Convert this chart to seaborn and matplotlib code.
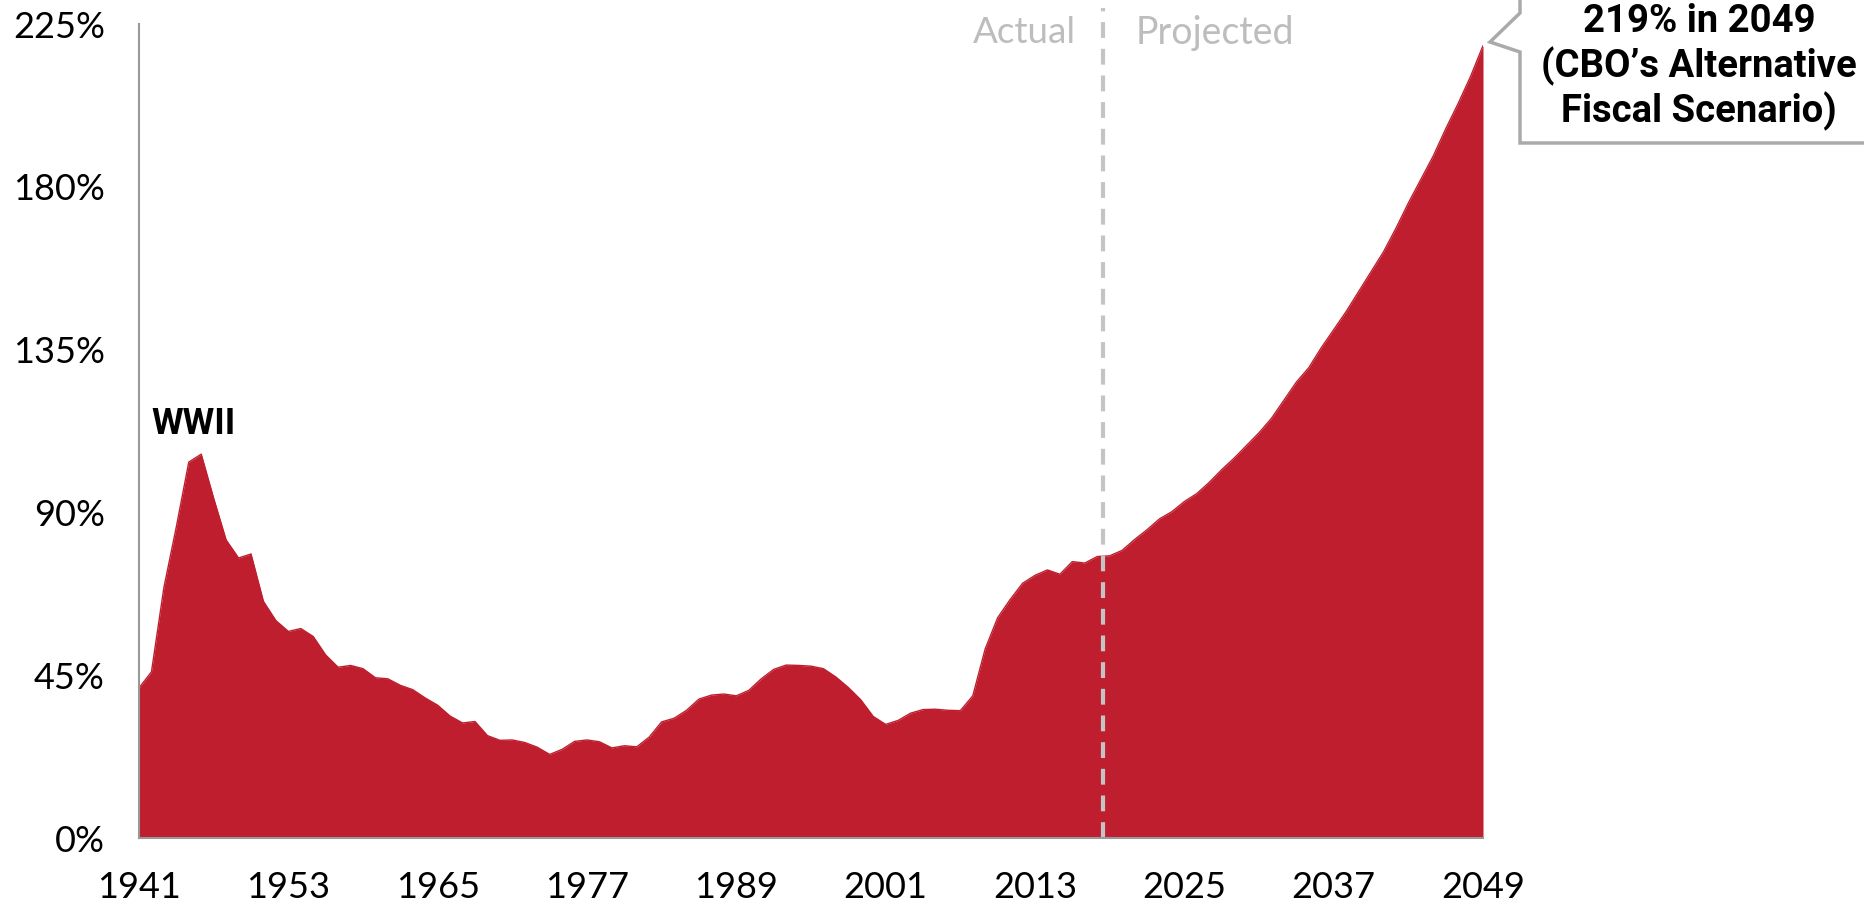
import numpy as np
import pandas as pd
import seaborn as sns
import matplotlib
matplotlib.use("Agg")
from matplotlib import pyplot as plt
from matplotlib.patches import Polygon

# debt held by the public, % of GDP
years_actual = list(range(1941, 2019))
debt_actual = [41.5, 45.9, 69.2, 86.0, 103.9, 106.1, 93.9, 82.4, 77.4, 78.5,
               65.4, 60.1, 57.1, 57.9, 55.7, 50.6, 47.2, 47.7, 46.8, 44.3,
               44.0, 42.2, 41.0, 38.7, 36.7, 33.7, 31.8, 32.2, 28.3, 27.0,
               27.1, 26.4, 25.1, 23.1, 24.5, 26.7, 27.1, 26.6, 24.9, 25.5,
               25.2, 27.9, 32.1, 33.1, 35.3, 38.4, 39.5, 39.8, 39.3, 40.8,
               44.0, 46.6, 47.8, 47.7, 47.5, 46.8, 44.5, 41.6, 38.2, 33.6,
               31.4, 32.5, 34.5, 35.5, 35.6, 35.3, 35.2, 39.3, 52.3, 60.9,
               65.9, 70.4, 72.6, 74.1, 72.9, 76.4, 76.0, 77.8]
years_proj = list(range(2019, 2050))
debt_proj = [78.0, 79.5, 82.5, 85.2, 88.2, 90.2, 93.0, 95.2, 98.3, 101.8,
             105.0, 108.5, 112.0, 116.0, 121.0, 126.0, 130.0, 135.5, 140.5, 145.5,
             151.0, 156.5, 162.0, 168.5, 175.5, 182.0, 188.5, 196.0, 203.0, 210.5,
             219.0]

x_ticks = [1941, 1953, 1965, 1977, 1989, 2001, 2013, 2025, 2037, 2049]
y_ticks = [0, 45, 90, 135, 180, 225]
y_labels = ["0%", "45%", "90%", "135%", "180%", "225%"]
split_year = 2018.5

df = pd.DataFrame({"year": years_actual + years_proj,
                   "debt": debt_actual + debt_proj})

red = "#BE1E2D"
grey = "#999999"
bold_font = ["Roboto", "DejaVu Sans"]

sns.set_style("white")
plt.rcParams["font.family"] = ["Lato", "DejaVu Sans"]
plt.rcParams["text.color"] = "black"

fig = plt.figure(figsize=(18.64, 9), dpi=100)
ax = fig.add_axes([139 / 1864, 1 - 838 / 900, (1483 - 139) / 1864, (838 - 24) / 900])

ax.fill_between(df["year"], 0, df["debt"], color=red, linewidth=0)
sns.lineplot(data=df, x="year", y="debt", color=red, linewidth=1, ax=ax)

ax.set_xlim(1941, 2049)
ax.set_ylim(0, 225)
ax.set_xticks(x_ticks)
ax.set_yticks(y_ticks)
ax.set_yticklabels(y_labels)
ax.set_xlabel("")
ax.set_ylabel("")
ax.tick_params(axis="both", direction="out", length=7.5, width=1.5, color=grey,
               labelsize=26, labelcolor="black")
ax.tick_params(axis="x", pad=16)
ax.tick_params(axis="y", pad=17)

for s in ["top", "right"]:
    ax.spines[s].set_visible(False)
for s in ["left", "bottom"]:
    ax.spines[s].set_color(grey)
    ax.spines[s].set_linewidth(1.5)

# actual / projected divider
ax.axvline(split_year, ymin=0, ymax=1.02, color="#c4c4c4", linewidth=3,
           linestyle=(0, (3.8, 2.6)), clip_on=False)
ax.text(split_year - 2.2, 222.6, "Actual", ha="right", va="center",
        fontsize=26.5, color="#bdbdbd")
ax.text(split_year + 2.6, 222.6, "Projected", ha="left", va="center",
        fontsize=27, color="#bdbdbd")

ax.text(1942.0, 114.5, "WWII", ha="left", va="center", fontsize=26,
        fontweight="bold", family=bold_font, color="black")

# callout box for the 2049 value
W, H = 1864, 900
pts = [(1520, -10), (1520, 13), (1490, 42), (1520, 52), (1520, 143),
       (1880, 143), (1880, -10)]
callout = Polygon([(px / W, 1 - py / H) for px, py in pts], closed=True,
                  transform=fig.transFigure, facecolor="white",
                  edgecolor="#aaaaaa", linewidth=2.5, clip_on=False)
fig.add_artist(callout)
fig.text(1699 / W, 1 - 67 / H, "219% in 2049\n(CBO\u2019s Alternative\nFiscal Scenario)",
         ha="center", va="center", fontsize=27.5, fontweight="bold",
         family=bold_font, color="black", linespacing=1.2)

fig.savefig("out.png", dpi=100)
